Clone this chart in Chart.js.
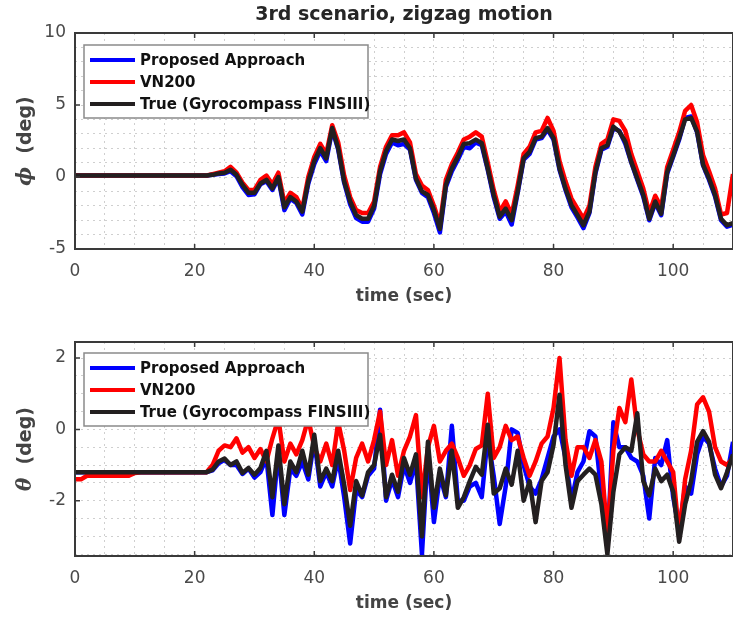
<!DOCTYPE html>
<html>
<head>
<meta charset="utf-8">
<script src="https://cdn.jsdelivr.net/npm/chart.js@4.4.1/dist/chart.umd.min.js"></script>
<style>
html,body{margin:0;padding:0;background:#fff;overflow:hidden;width:733px;height:619px;}
canvas{position:absolute;left:0;}
#phiChart{top:0;}
#thetaChart{top:310px;}
</style>
</head>
<body>
<canvas id="phiChart" width="745" height="310"></canvas>
<canvas id="thetaChart" width="745" height="309"></canvas>
<script>

/* DADOS */

const seriesNames = [
  "Proposed Approach",
  "VN200",
  "True (Gyrocompass FINSIII)"
];

const timeTicks = [0,20,40,60,80,100];
const phiTicks = [-5,0,5,10];
const thetaTicks = [-2,0,2];

const time = [
  0,1,2,3,4,5,6,7,8,9,10,11,12,13,14,15,16,17,18,19,
  20,21,22,23,24,25,26,27,28,29,30,31,32,33,34,35,36,37,38,39,
  40,41,42,43,44,45,46,47,48,49,50,51,52,53,54,55,56,57,58,59,
  60,61,62,63,64,65,66,67,68,69,70,71,72,73,74,75,76,77,78,79,
  80,81,82,83,84,85,86,87,88,89,90,91,92,93,94,95,96,97,98,99,
  100,101,102,103,104,105,106,107,108,109,110
];

const phiProposed = [
  0.1,0.1,0.1,0.1,0.1,0.1,0.1,0.1,0.1,0.1,0.1,0.1,0.1,0.1,0.1,0.1,0.1,0.1,0.1,0.1,
  0.1,0.1,0.1,0.15,0.2,0.25,0.4,0.05,-0.7,-1.25,
  -1.2,-0.5,-0.3,-0.9,-0.1,-2.3,-1.5,-1.8,-2.6,-0.45,
  0.9,1.8,1.1,3.3,1.9,-0.4,-1.9,-2.85,-3.1,-3.1,
  -2.2,0.2,1.6,2.4,2.2,2.3,1.9,-0.2,-1.1,-1.4,
  -2.5,-3.85,-0.7,0.4,1.2,2.1,2.0,2.4,2.2,0.5,
  -1.4,-2.9,-2.4,-3.3,-1.1,1.2,1.6,2.6,2.7,3.3,
  2.6,0.5,-0.9,-2.1,-2.8,-3.55,-2.5,0.25,1.9,2.1,
  3.4,3.2,2.3,1.0,-0.2,-1.35,-3.0,-1.8,-2.65,0.25,
  1.4,2.6,4.1,4.2,3.1,0.8,-0.2,-1.35,-3.0,-3.45,
  -3.3
];

const phiVN200 = [
  0.1,0.1,0.1,0.1,0.1,0.1,0.1,0.1,0.1,0.1,0.1,0.1,0.1,0.1,0.1,0.1,0.1,0.1,0.1,0.1,
  0.1,0.1,0.1,0.2,0.3,0.4,0.7,0.3,-0.4,-0.9,
  -0.9,-0.2,0.1,-0.5,0.3,-1.8,-1.1,-1.4,-2.2,0.0,
  1.4,2.3,1.6,3.6,2.4,0.1,-1.4,-2.3,-2.5,-2.5,
  -1.7,0.7,2.1,2.9,2.9,3.1,2.4,0.2,-0.6,-0.9,
  -2.0,-3.3,-0.2,0.9,1.7,2.6,2.8,3.1,2.8,1.0,
  -0.9,-2.4,-1.7,-2.6,-0.6,1.6,2.1,3.1,3.2,4.1,
  3.2,1.1,-0.3,-1.5,-2.2,-2.9,-2.0,0.7,2.3,2.6,
  4.0,3.9,3.2,1.6,0.4,-0.8,-2.5,-1.3,-2.1,0.7,
  1.9,3.1,4.6,5.0,3.8,1.5,0.4,-0.8,-2.6,-2.5,
  0.2
];

const phiTrue = [
  0.1,0.1,0.1,0.1,0.1,0.1,0.1,0.1,0.1,0.1,0.1,0.1,0.1,0.1,0.1,0.1,0.1,0.1,0.1,0.1,
  0.1,0.1,0.1,0.15,0.25,0.3,0.5,0.15,-0.55,-1.1,
  -1.1,-0.45,-0.2,-0.8,0.0,-2.1,-1.4,-1.7,-2.4,-0.3,
  1.1,2.0,1.3,3.4,2.0,-0.3,-1.7,-2.65,-2.9,-2.9,
  -2.0,0.4,1.8,2.6,2.5,2.6,2.0,-0.1,-1.0,-1.25,
  -2.3,-3.6,-0.55,0.6,1.4,2.3,2.35,2.6,2.35,0.6,
  -1.25,-2.75,-2.2,-3.0,-1.0,1.3,1.75,2.7,2.8,3.4,
  2.7,0.6,-0.8,-1.95,-2.65,-3.35,-2.4,0.35,2.0,2.2,
  3.5,3.15,2.45,1.05,-0.1,-1.25,-2.9,-1.7,-2.55,0.35,
  1.5,2.7,4.0,4.1,3.15,0.85,-0.1,-1.25,-2.9,-3.35,
  -3.2
];

const thetaProposed = [
  -1.2,-1.2,-1.2,-1.2,-1.2,-1.2,-1.2,-1.2,-1.2,-1.2,-1.2,-1.2,-1.2,-1.2,-1.2,-1.2,-1.2,-1.2,-1.2,-1.2,
  -1.2,-1.2,-1.2,-1.15,-0.95,-0.85,-1.0,-1.0,-1.25,-1.1,
  -1.35,-1.2,-0.8,-2.4,-0.6,-2.4,-1.1,-1.3,-0.9,-1.4,
  -0.3,-1.6,-1.2,-1.6,-0.8,-1.9,-3.2,-1.7,-1.9,-1.3,
  -1.1,0.55,-2.0,-1.4,-1.9,-1.0,-1.5,-0.9,-3.5,-0.6,
  -2.6,-1.3,-1.9,0.1,-2.0,-2.0,-1.6,-1.5,-1.9,-0.2,
  -1.3,-2.65,-1.6,0.0,-0.1,-1.0,-1.6,-1.8,-1.4,-0.8,
  -0.2,0.0,-0.8,-2.0,-1.2,-0.9,-0.05,-0.2,-1.8,-3.3,
  0.2,-0.5,-0.5,-0.8,-0.9,-1.3,-2.5,-0.8,-1.0,-0.3,
  -1.9,-2.8,-1.6,-1.8,-0.7,-0.2,-0.4,-1.1,-1.6,-1.3,
  -0.35
];

const thetaVN200 = [
  -1.4,-1.4,-1.3,-1.3,-1.3,-1.3,-1.3,-1.3,-1.3,-1.3,-1.22,-1.2,-1.2,-1.2,-1.2,-1.2,-1.2,-1.2,-1.2,-1.2,
  -1.2,-1.2,-1.2,-1.0,-0.6,-0.45,-0.5,-0.25,-0.65,-0.5,
  -0.8,-0.55,-0.9,-0.25,0.3,-0.9,-0.4,-0.7,-0.3,0.3,
  -0.5,-0.9,-0.4,-1.0,0.2,-0.6,-1.7,-0.8,-0.4,-0.9,
  -0.3,0.5,-1.0,-0.3,-1.3,-0.6,-0.2,0.4,-1.9,-0.5,
  0.1,-0.9,-0.6,-0.4,-0.8,-1.3,-1.0,-0.55,-0.45,1.0,
  -0.8,-0.5,0.1,-0.3,-0.2,-0.8,-1.3,-0.9,-0.4,-0.2,
  0.6,2.0,-0.3,-1.3,-0.5,-0.5,-0.8,-0.3,-0.9,-3.0,
  -0.6,0.6,0.2,1.4,0.0,-0.7,-0.9,-0.9,-0.6,-0.9,
  -1.2,-3.0,-1.4,-0.6,0.7,0.9,0.5,-0.5,-0.9,-1.0,
  -0.8
];

const thetaTrue = [
  -1.2,-1.2,-1.2,-1.2,-1.2,-1.2,-1.2,-1.2,-1.2,-1.2,-1.2,-1.2,-1.2,-1.2,-1.2,-1.2,-1.2,-1.2,-1.2,-1.2,
  -1.2,-1.2,-1.2,-1.13,-0.9,-0.82,-1.0,-0.9,-1.22,-1.08,
  -1.27,-1.08,-0.6,-1.9,-0.45,-2.1,-0.9,-1.2,-0.6,-1.27,
  -0.15,-1.45,-1.1,-1.45,-0.6,-1.55,-2.7,-1.45,-1.85,-1.2,
  -1.0,-0.15,-1.9,-1.27,-1.75,-0.8,-1.27,-0.7,-3.0,-0.35,
  -2.2,-1.1,-1.85,-0.6,-2.2,-1.9,-1.45,-1.05,-1.27,0.13,
  -1.8,-1.65,-1.1,-1.55,-0.6,-2.0,-1.45,-2.6,-1.45,-1.2,
  -0.43,0.97,-1.0,-2.2,-1.45,-1.27,-1.1,-1.27,-2.1,-3.5,
  -1.75,-0.7,-0.5,-0.6,0.45,-1.45,-1.85,-1.1,-1.45,-1.27,
  -1.75,-3.15,-2.1,-1.45,-0.35,-0.05,-0.35,-1.27,-1.65,-1.2,
  -0.7
];

const lineColors = ['#0000ff','#ff0000','#231f20'];

/* MOLDURA, TITULOS E LEGENDA */

const frame = {

  id:'frame',

  afterDraw(chart, args, opts){

    const ctx = chart.ctx;
    const a = chart.chartArea;
    const xs = chart.scales.x;
    const ys = chart.scales.y;

    ctx.save();

    // inner tick marks
    ctx.strokeStyle = '#3a3a3a';
    ctx.lineWidth = 1.5;
    ctx.beginPath();
    timeTicks.forEach(v => {
      const px = xs.getPixelForValue(v);
      ctx.moveTo(px, a.bottom); ctx.lineTo(px, a.bottom - 5);
      ctx.moveTo(px, a.top); ctx.lineTo(px, a.top + 5);
    });
    opts.yTicks.forEach(v => {
      const py = ys.getPixelForValue(v);
      ctx.moveTo(a.left, py); ctx.lineTo(a.left + 5, py);
    });
    ctx.stroke();

    // axes box
    ctx.lineWidth = 2;
    ctx.strokeRect(a.left, a.top, a.right - a.left, a.bottom - a.top);

    // title
    if(opts.title){
      ctx.fillStyle = '#262626';
      ctx.font = 'bold 19px "DejaVu Sans"';
      ctx.textAlign = 'center';
      ctx.textBaseline = 'middle';
      ctx.fillText(opts.title, (a.left + a.right) / 2, 15);
    }

    // x label
    ctx.fillStyle = '#444';
    ctx.font = 'bold 17px "DejaVu Sans"';
    ctx.textAlign = 'center';
    ctx.textBaseline = 'middle';
    ctx.fillText('time (sec)', (a.left + a.right) / 2, a.bottom + 48);

    // y label
    ctx.save();
    ctx.translate(26, (a.top + a.bottom) / 2);
    ctx.rotate(-Math.PI / 2);
    ctx.textAlign = 'left';
    ctx.font = 'bold italic 20px "DejaVu Serif"';
    const w1 = ctx.measureText(opts.symbol).width;
    ctx.font = 'bold 19px "DejaVu Sans"';
    const rest = '  (deg)';
    const w2 = ctx.measureText(rest).width;
    let x0 = -(w1 + w2) / 2;
    ctx.font = 'bold italic 20px "DejaVu Serif"';
    ctx.fillText(opts.symbol, x0, 0);
    ctx.font = 'bold 19px "DejaVu Sans"';
    ctx.fillText(rest, x0 + w1, 0);
    ctx.restore();

    // legend
    const lx = 84, ly = a.top + opts.legendTop;
    ctx.fillStyle = '#fff';
    ctx.fillRect(lx, ly, 284, 73);
    ctx.strokeStyle = '#8a8a8a';
    ctx.lineWidth = 1.5;
    ctx.strokeRect(lx, ly, 284, 73);

    chart.data.datasets.forEach((ds, i) => {
      const y = ly + 15 + i * 22;
      ctx.strokeStyle = ds.borderColor;
      ctx.lineWidth = 4;
      ctx.beginPath();
      ctx.moveTo(lx + 6, y);
      ctx.lineTo(lx + 51, y);
      ctx.stroke();
      ctx.fillStyle = '#111';
      ctx.font = 'bold 15px "DejaVu Sans"';
      ctx.textAlign = 'left';
      ctx.textBaseline = 'middle';
      ctx.fillText(ds.label, lx + 56, y + 1);
    });

    ctx.restore();

  }

};

function makeDatasets(values){

  return values.map((vals, i) => ({
    label: seriesNames[i],
    data: time.map((t, k) => ({x: t, y: vals[k]})),
    borderColor: lineColors[i],
    borderWidth: 4.5,
    pointRadius: 0,
    tension: 0,
    borderJoinStyle: 'round',
    order: 3 - i
  }));

}

// grid lines every "step", labels only on the tick list
function gridTicks(scale, step){

  const out = [];
  const first = Math.ceil(scale.min / step - 1e-9);
  const last = Math.floor(scale.max / step + 1e-9);
  for(let k = first; k <= last; k++){
    out.push({value: Math.round(k * step * 1000) / 1000});
  }
  scale.ticks = out;

}

function makeChart(id, values, yMin, yMax, yStep, yTicks, extra){

  const ctx = document.getElementById(id);

  new Chart(ctx, {

    type:'line',

    data:{
      datasets: makeDatasets(values)
    },

    options:{
      responsive:false,
      animation:false,
      layout:{
        padding:{top: extra.top, right: 10, left: 0, bottom: 0}
      },
      plugins:{
        legend:{display:false},
        tooltip:{enabled:false},
        frame: extra
      },
      scales:{
        x:{
          type:'linear',
          min:0,
          max:110,
          afterFit: s => { s.height = extra.xHeight; },
          afterBuildTicks: s => gridTicks(s, 5),
          grid:{color:'#cfcfcf', drawTicks:false},
          border:{display:false, dash:[2,4]},
          ticks:{
            autoSkip:false,
            maxRotation:0,
            padding:12,
            color:'#4a4a4a',
            font:{family:'"DejaVu Sans"', size:17},
            callback: v => timeTicks.includes(v) ? String(v) : ''
          }
        },
        y:{
          min:yMin,
          max:yMax,
          afterFit: s => { s.width = 75; },
          afterBuildTicks: s => gridTicks(s, yStep),
          grid:{color:'#cfcfcf', drawTicks:false},
          border:{display:false, dash:[2,4]},
          ticks:{
            autoSkip:false,
            padding:9,
            color:'#4a4a4a',
            font:{family:'"DejaVu Sans"', size:17},
            callback: v => yTicks.includes(v) ? String(v) : ''
          }
        }
      }
    },

    plugins:[frame]

  });

}

makeChart('phiChart', [phiProposed, phiVN200, phiTrue], -5, 10, 1, phiTicks, {
  top:33, xHeight:61, title:'3rd scenario, zigzag motion', symbol:'\u03d5', yTicks:phiTicks, legendTop:12
});

makeChart('thetaChart', [thetaProposed, thetaVN200, thetaTrue], -3.55, 2.45, 0.5, thetaTicks, {
  top:32, xHeight:63, title:'', symbol:'\u03b8', yTicks:thetaTicks, legendTop:11
});

</script>
</body>
</html>
